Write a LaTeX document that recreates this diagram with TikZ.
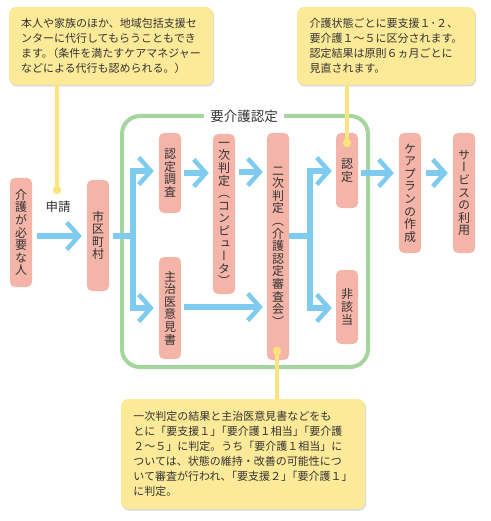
\documentclass[tikz,border=0pt]{standalone}
\usepackage{fontspec}
\setmainfont{Noto Sans CJK JP}
\newfontfamily\vfont[RawFeature=+vert]{Noto Sans CJK JP}
\newfontfamily\hfont{Noto Sans CJK JP}
\usetikzlibrary{arrows.meta,shadows}
\definecolor{boxpink}{HTML}{F5B4A8}
\definecolor{arrblue}{HTML}{7FCBEF}
\definecolor{frgreen}{HTML}{A6D49E}
\definecolor{ylline}{HTML}{FBE37E}
\definecolor{ylfill}{HTML}{FDEA98}
\definecolor{txtgray}{HTML}{333333}
\begin{document}
\begin{tikzpicture}[x=1pt,y=-1pt,
  vbox/.style={fill=boxpink, rounded corners=5pt, minimum width=22pt, inner sep=0pt,
    align=center, text=txtgray, font=\vfont\fontsize{12}{12.6}\selectfont},
  bl/.style={draw=arrblue, line width=5.5pt},
  arr/.style={bl, -{Straight Barb[length=12pt,width=27pt,line width=4.5pt]}},
  callout/.style={fill=ylfill, rounded corners=7pt, align=left, text=txtgray,
    font=\fontsize{11}{15}\selectfont, inner sep=0pt,
    drop shadow={shadow xshift=1pt, shadow yshift=-1.5pt, opacity=0.25, fill=black!60}},
  yl/.style={draw=ylline, line width=4pt}
]
\useasboundingbox (0,0) rectangle (490,521);

% frame
\node[draw=frgreen, line width=4pt, rounded corners=18pt, minimum width=246pt,
  minimum height=251pt, inner sep=0pt] (frame) at (245,241.5) {};
\node[fill=white, text=txtgray, font=\fontsize{13.5}{13.5}\selectfont, inner xsep=6pt,
  inner ysep=2pt] (title) at (244,116) {要介護認定};

% boxes
\node[vbox, minimum height=109pt] (n1) at (21,232.5) {介\\護\\が\\必\\要\\な\\人};
\node[vbox, minimum height=111pt] (n2) at (98,235.5) {市\\区\\町\\村};
\node[vbox, minimum height=80pt] (n3) at (170,173) {認\\定\\調\\査};
\node[vbox, minimum height=102pt] (n4) at (170,308) {主\\治\\医\\意\\見\\書};
\node[vbox, minimum height=160pt] (n5) at (224,214) {{\hfont 一}\\次\\判\\定\\（\\コ\\ン\\ピ\\ュ\\ー\\タ\\）};
\node[vbox, minimum height=227pt] (n6) at (278,246.5) {{\hfont 二}\\次\\判\\定\\（\\介\\護\\認\\定\\審\\査\\会\\）};
\node[vbox, minimum height=75pt] (n7) at (347,170.5) {認\\定};
\node[vbox, minimum height=74pt] (n8) at (347,307) {非\\該\\当};
\node[vbox, minimum height=120pt] (n9) at (410,193) {ケ\\ア\\プ\\ラ\\ン\\の\\作\\成};
\node[vbox, minimum height=120pt] (n10) at (464,193) {サ\\ー\\ビ\\ス\\の\\利\\用};

\node[text=txtgray, font=\fontsize{12.5}{12.5}\selectfont, inner sep=0pt] (shinsei) at (58,207) {申請};

% arrows
\draw[arr, shorten <=5pt, shorten >=5pt] (n1.east |- 0,236) -- (n2.west |- 0,236);
\coordinate (b1) at (133,236);
\draw[arr, shorten <=4pt, shorten >=5pt] (n2.east |- b1) -- (b1) |- (n3.west |- 0,171);
\draw[arr, shorten >=5pt] (b1) |- (n4.west);
\draw[arr, shorten <=3pt, shorten >=4pt] (n3.east) -- (n5.west |- n3.east);
\draw[arr, shorten <=4pt, shorten >=4pt] (n5.east |- 0,172) -- (n6.west |- 0,172);
\draw[arr, shorten <=3pt, shorten >=4pt] (n4.east |- 0,307) -- (n6.west |- 0,307);
\coordinate (b2) at (310,236);
\draw[arr, shorten <=0pt, shorten >=4pt] (n6.east |- b2) -- (b2) |- (n7.west |- 0,171);
\draw[arr, shorten >=4pt] (b2) |- (n8.west |- 0,308);
\draw[arr, shorten <=3pt, shorten >=5pt] (n7.east |- 0,173) -- (n9.west |- 0,173);
\draw[arr, shorten <=5pt, shorten >=5pt] (n9.east |- 0,173) -- (n10.west |- 0,173);

% callouts
\node[callout, minimum width=204pt, minimum height=78pt] (c1) at (111,46)
{本人や家族のほか、地域包括支援セ\\
ンターに代行してもらうこともでき\\
ます。\kern-.5em（条件を満たすケアマネジャー\\
などによる代行も認められる。）};
\node[callout, minimum width=178pt, minimum height=78pt] (c2) at (386,46)
{介護状態ごとに要支援１･２、\\
要介護１～５に区分されます。\\
認定結果は原則６ヵ月ごとに\\
見直されます。};
\node[callout, minimum width=244pt, minimum height=110pt] (c3) at (243,454)
{一次判定の結果と主治医意見書などをも\\
とに「要支援１」\kern-.5em「要介護１相当」\kern-.5em「要介護\\
２～５」に判定。うち「要介護１相当」に\\
ついては、状態の維持・改善の可能性につ\\
いて審査が行われ、\kern-.5em「要支援２」\kern-.5em「要介護１」\\
に判定。};

% yellow leaders
\coordinate (d1) at (57,190);
\coordinate (d2) at (347,143);
\coordinate (d3) at (277,351);
\draw[yl] (c1.south -| d1) -- (d1);
\draw[yl] (c2.south -| d2) -- (d2);
\draw[yl] (c3.north -| d3) -- (d3);
\fill[ylline] (d1) circle (4.2pt);
\fill[ylline] (d2) circle (4.2pt);
\fill[ylline] (d3) circle (4.2pt);
\end{tikzpicture}
\end{document}
